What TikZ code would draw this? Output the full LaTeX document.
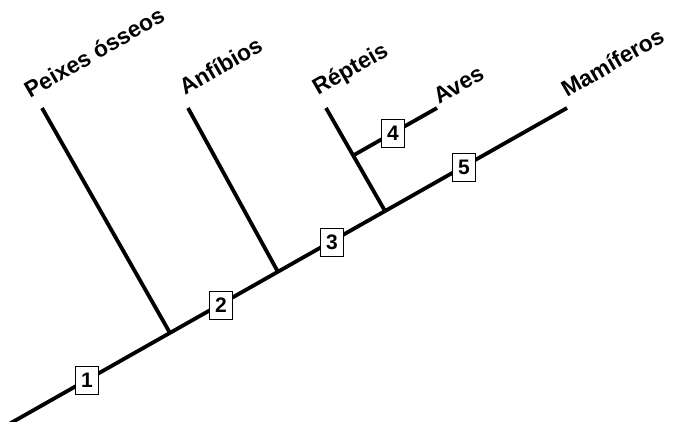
\documentclass[tikz,border=0pt]{standalone}
\usepackage{fontspec}
\setmainfont{Liberation Sans}
\begin{document}
\begin{tikzpicture}[x=1pt,y=-1pt,
  branch/.style={line width=3.8pt},
  stepbox/.style={draw,line width=0.8pt,fill=white,minimum width=23pt,minimum height=28pt,inner sep=0pt,font=\fontsize{21}{21}\selectfont\bfseries},
  taxon/.style={anchor=base west,inner sep=0pt,rotate=30,font=\fontsize{22.8}{22.8}\selectfont\bfseries}]
\useasboundingbox (0,0) rectangle (674,422);
\coordinate (root) at (10,423.5);
\coordinate (mam) at (567,108);
\coordinate (j1) at (170,333);
\coordinate (j2) at (278,272);
\coordinate (j3) at (385,211);
\coordinate (j4) at (354,155);
\coordinate (peixes) at (42,108);
\coordinate (anfibios) at (188,108);
\coordinate (repteis) at (326,108);
\coordinate (aves) at (437,108);
\draw[branch] (root) -- (mam);
\draw[branch] (j1) -- (peixes);
\draw[branch] (j2) -- (anfibios);
\draw[branch] (j3) -- (repteis);
\draw[branch] (j4) -- (aves);
\node[stepbox] (b1) at (87,380) {1};
\node[stepbox] (b2) at (221,305) {2};
\node[stepbox] (b3) at (332,242) {3};
\node[stepbox] (b4) at (393,133) {4};
\node[stepbox] (b5) at (464,167) {5};
\node[taxon] (tp) at (30,99) {Peixes ósseos};
\node[taxon] (ta) at (185,96) {Anfíbios};
\node[taxon] (tr) at (318,96) {Répteis};
\node[taxon] (tv) at (439,105) {Aves};
\node[taxon] (tm) at (567,98) {Mamíferos};
\end{tikzpicture}
\end{document}
